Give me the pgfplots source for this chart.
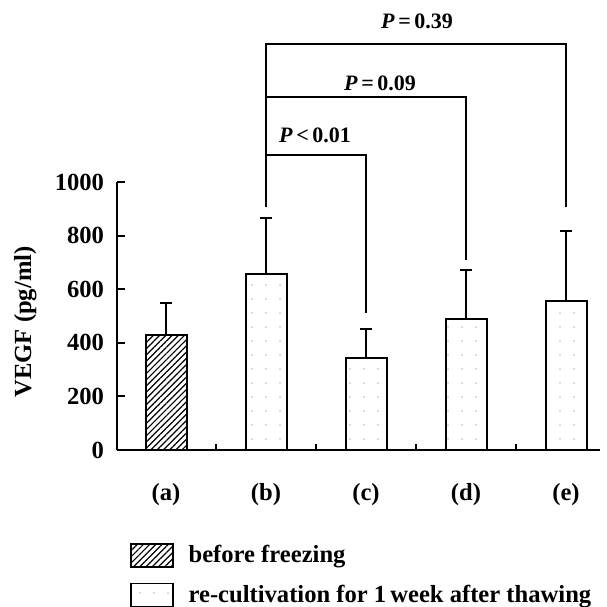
\documentclass[border=0pt]{standalone}
\usepackage{pgfplots}
\pgfplotsset{compat=1.18}
\usetikzlibrary{patterns.meta}
\usepackage{fontspec}
\setmainfont{Liberation Serif}
\newcommand{\bigf}{\fontsize{12.3bp}{14bp}\selectfont\bfseries}
\newcommand{\pf}{\fontsize{11bp}{13bp}\selectfont\bfseries}
\pgfplotsset{mylegend/.style={legend image code/.code={\draw[##1, line width=0.8bp, solid] (0bp,-5.75bp) rectangle (21bp,5.75bp);}}}
\begin{document}
\begin{tikzpicture}
\begin{axis}[
  at={(0,0)}, anchor=south west,
  scale only axis, width=241.5bp, height=134bp,
  xmin=-0.49, xmax=4.34, ymin=0, ymax=1000,
  axis x line*=bottom, axis y line*=left,
  axis line style={line width=1bp, -},
  clip=false,
  ytick={0,200,...,1000},
  xtick={0,1,2,3,4}, xticklabels={(a),(b),(c),(d),(e)},
  major x tick style={draw=none},
  minor xtick={0.5,1.5,2.5,3.5},
  minor tick length=3bp,
  tick align=inside,
  major tick length=4bp,
  tick style={line width=1bp, black},
  /pgf/number format/assume math mode=true,
  /pgf/number format/1000 sep={},
  ticklabel style={font=\bigf},
  yticklabel style={xshift=-3bp},
  xticklabel style={anchor=base, yshift=-25bp},
  ylabel={VEGF (pg/ml)},
  ylabel style={font=\bigf, at={(axis description cs:-0.19,0.478)}, anchor=center},
  legend style={at={(axis description cs:0,0)}, anchor=north west, xshift=6.5bp, yshift=-46.5bp,
    draw=none, fill=none, inner sep=0pt, outer sep=0pt, row sep=7.5bp, column sep=7.5bp,
    font=\bigf, nodes={inner sep=0pt}},
  legend cell align=left,
]
\addplot[ybar, bar width=20.5bp, bar shift=0pt, draw=black, line width=1bp,
  pattern={Lines[angle=45,distance=2.2bp,line width=0.6bp]}, mylegend,
  error bars/.cd, y dir=plus, y explicit,
  error bar style={line width=1bp, solid},
  error mark options={rotate=90, mark size=3bp, line width=1bp}]
  coordinates {(0,429) +- (0,120)};
\addlegendentry{before freezing}
\addplot[ybar, bar width=20.5bp, bar shift=0pt, draw=black, line width=1bp,
  pattern={Dots[distance=7bp,radius=0.35bp]}, pattern color=black!55, mylegend,
  error bars/.cd, y dir=plus, y explicit,
  error bar style={line width=1bp, solid},
  error mark options={rotate=90, mark size=3bp, line width=1bp}]
  coordinates {(1,657) +- (0,209) (2,343) +- (0,108) (3,489) +- (0,183) (4,556) +- (0,261)};
\addlegendentry{re-cultivation for 1\,week after thawing}
% significance brackets
\draw[line width=0.9bp] (axis cs:1,907) -- (axis cs:1,1515) -- (axis cs:4,1515) -- (axis cs:4,907);
\draw[line width=0.9bp] (axis cs:1,1317) -- (axis cs:3,1317) -- (axis cs:3,709);
\draw[line width=0.9bp] (axis cs:1,1101) -- (axis cs:2,1101) -- (axis cs:2,511);
\node[anchor=base, font=\pf, inner sep=0pt] at (axis cs:2.51,1571) {\textit{P}\,=\,0.39};
\node[anchor=base, font=\pf, inner sep=0pt] at (axis cs:2.14,1343) {\textit{P}\,=\,0.09};
\node[anchor=base, font=\pf, inner sep=0pt] at (axis cs:1.49,1149) {\textit{P}\,<\,0.01};
\end{axis}
\pgfresetboundingbox
\path[use as bounding box] (-58.5bp,-78.5bp) rectangle (245bp,225bp);
\end{tikzpicture}
\end{document}
